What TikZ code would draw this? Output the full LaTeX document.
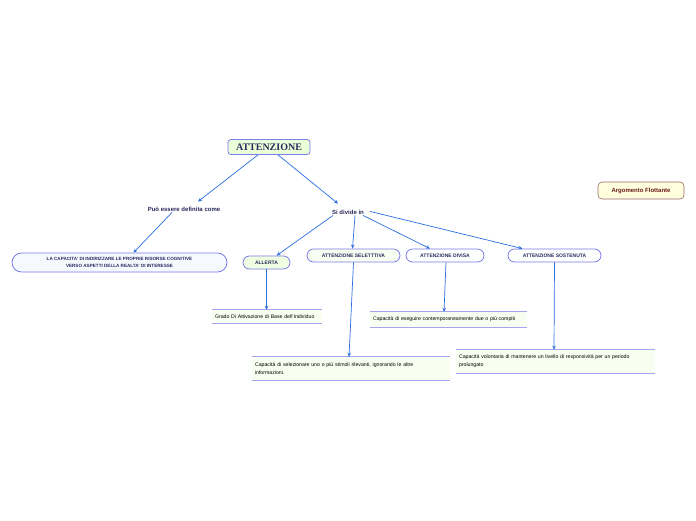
\documentclass[tikz,border=0pt]{standalone}
\usepackage{fontspec}
\setmainfont{Liberation Sans}
\newfontfamily\titlefont{Liberation Serif}
\usetikzlibrary{arrows.meta}
\definecolor{edgec}{HTML}{2B6FE0}
\definecolor{boxline}{HTML}{7C7CEA}
\definecolor{navy}{HTML}{2A2A5E}
\definecolor{titlefill}{HTML}{EAFFD8}
\definecolor{greenfill}{HTML}{F0FFE2}
\definecolor{palefill}{HTML}{F8FFF2}
\definecolor{bluefill}{HTML}{F6FAFF}
\definecolor{leaffill}{HTML}{F8FFF0}
\definecolor{leafline}{HTML}{A4A4F0}
\definecolor{argfill}{HTML}{FFFFDD}
\definecolor{argline}{HTML}{9A6A6A}
\definecolor{argtext}{HTML}{6A1A1A}
\tikzset{
  pill/.style={draw=boxline, line width=0.8pt, rounded corners=6.5pt, inner sep=0pt, text=navy,
    font=\fontsize{5}{6}\selectfont\bfseries},
  lbl/.style={inner sep=1pt, text=navy, font=\fontsize{6}{7}\selectfont\bfseries},
  leaf/.style={fill=leaffill, inner sep=0pt, text=black, align=left,
    font=\fontsize{5.2}{8}\selectfont},
  conn/.style={draw=edgec, line width=0.7pt, -{Stealth[length=4pt,width=3.5pt]}},
  rule/.style={draw=leafline, line width=1.3pt}
}
\begin{document}
\begin{tikzpicture}[x=1pt,y=-1pt]
\useasboundingbox[fill=white] (0,0) rectangle (696,520);

\node[pill, fill=titlefill, rounded corners=3pt, minimum width=82pt, minimum height=15pt,
  font=\titlefont\fontsize{10}{10}\selectfont\bfseries] (att) at (269,147) {ATTENZIONE};

\node[lbl] (pu) at (184,209) {Può essere definita come};
\node[lbl] (si) at (348,212) {Si divide in};

\node[pill, fill=bluefill, rounded corners=9.5pt, minimum width=215pt, minimum height=19pt,
  align=center, font=\fontsize{4.6}{6.5}\selectfont\bfseries] (cap) at (119.5,262.5)
  {LA CAPACITA' DI INDIRIZZARE LE PROPRIE RISORSE COGNITIVE\\VERSO ASPETTI DELLA REALTA' DI INTERESSE};

\node[pill, fill=greenfill, minimum width=47pt, minimum height=13pt] (all) at (266.5,262.5) {ALLERTA};
\node[pill, fill=palefill, minimum width=93pt, minimum height=13pt] (sel) at (353.5,255.5) {ATTENZIONE SELETTTIVA};
\node[pill, fill=white, minimum width=78pt, minimum height=13pt] (div) at (445,255.5) {ATTENZIONE DIVISA};
\node[pill, fill=white, minimum width=93pt, minimum height=13pt] (sos) at (554.5,255.5) {ATTENZIONE SOSTENUTA};

\node[draw=argline, fill=argfill, line width=0.6pt, rounded corners=4pt, inner sep=0pt,
  minimum width=86pt, minimum height=17pt, text=argtext,
  font=\fontsize{6}{7}\selectfont\bfseries] (arg) at (641,190.5) {Argomento Flottante};

\node[leaf, minimum width=110pt, minimum height=13pt, text width=104pt] (gr) at (267,316.5)
  {Grado Di Attivazione di Base dell'Individuo};
\node[leaf, minimum width=157pt, minimum height=15pt, text width=151pt] (es) at (448.5,319.5)
  {Capacità di eseguire contemporaneamente due o più compiti};
\node[leaf, minimum width=198pt, minimum height=23pt, text width=192pt] (sl) at (351,368.5)
  {Capacità di selezionare uno o più stimoli rilevanti, ignorando le altre\\informazioni.};
\node[leaf, minimum width=199pt, minimum height=23pt, text width=193pt] (vo) at (555.5,361.5)
  {Capacità volontaria di mantenere un livello di responsività per un periodo\\prolungato};

\foreach \n in {gr,es,sl,vo}{
  \draw[rule] (\n.north west) -- (\n.north east);
  \draw[rule] (\n.south west) -- (\n.south east);
}

\draw[conn] ([xshift=-11pt]att.south) -- ([xshift=14pt,yshift=4pt]pu.north);
\draw[conn] ([xshift=9pt]att.south) -- ([xshift=-10pt,yshift=5pt]si.north);
\draw[conn] ([xshift=-12pt]pu.south) -- ([xshift=14pt]cap.north);
\draw[conn] ([xshift=-15pt]si.south) -- ([xshift=10pt]all.north);
\draw[conn] ([xshift=7pt]si.south) -- ([xshift=-1pt]sel.north);
\draw[conn] ([xshift=15pt]si.south) -- ([xshift=-15pt]div.north);
\draw[conn] ([xshift=22pt,yshift=4pt]si.south) -- ([xshift=-32pt]sos.north);
\draw[conn] (all.south) -- (all.south |- gr.north);
\draw[conn] (sel.south) -- ([xshift=-2pt]sl.north);
\draw[conn] ([xshift=1pt]div.south) -- ([xshift=-1pt]div.south |- es.north);
\draw[conn] (sos.south) -- ([xshift=-0.5pt]sos.south |- vo.north);
\end{tikzpicture}
\end{document}
